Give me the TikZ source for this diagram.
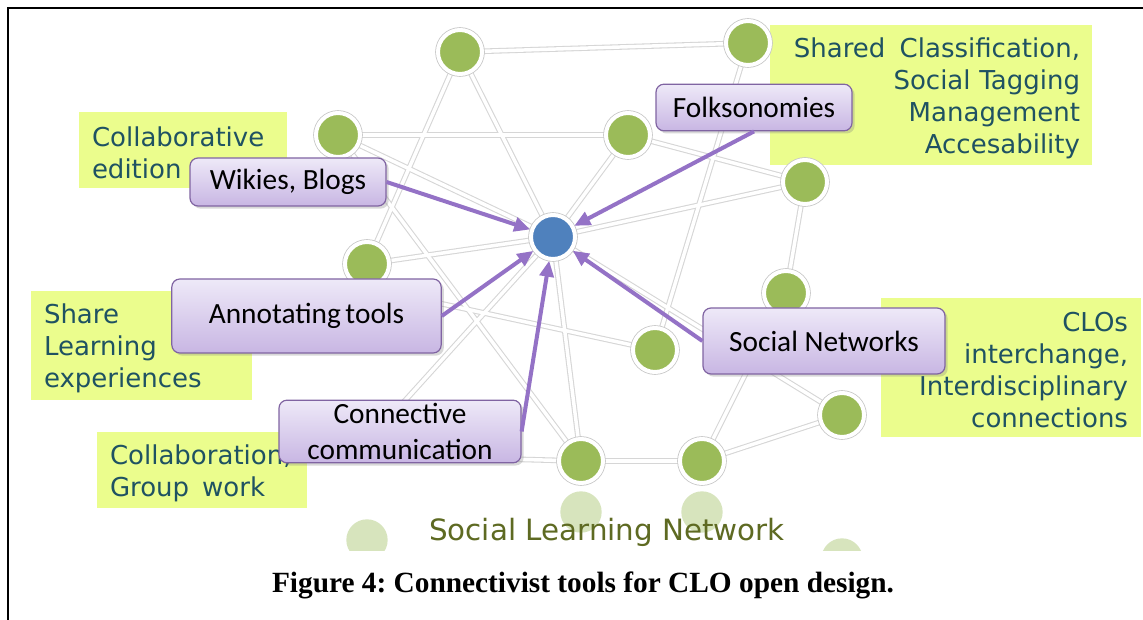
\documentclass[tikz,border=0pt]{standalone}
\usepackage{fontspec}
\setmainfont{Liberation Serif}
\newfontfamily\verd{DejaVu Sans}
\newfontfamily\calib{Carlito}
\usetikzlibrary{arrows.meta,shadows}
\pgfdeclarelayer{labels}
\pgfdeclarelayer{edges}
\pgfsetlayers{labels,edges,main}
\definecolor{grn}{HTML}{9BBB59}
\definecolor{blu}{HTML}{4F81BD}
\definecolor{ghostc}{HTML}{D7E4BD}
\definecolor{labc}{HTML}{EBFD8D}
\definecolor{labtxt}{HTML}{1F5262}
\definecolor{boxtop}{HTML}{EEE9F8}
\definecolor{boxbot}{HTML}{C8B6E3}
\definecolor{boxborder}{HTML}{8064A2}
\definecolor{arrc}{HTML}{9472C6}
\definecolor{edgegray}{HTML}{D6D6D6}
\definecolor{slnc}{HTML}{5E6A22}
\begin{document}
\frenchspacing
\begin{tikzpicture}[x=0.75pt,y=-0.75pt,
  gn/.style={circle,fill=grn,draw=white,line width=3pt,minimum size=33pt,inner sep=0pt,
    preaction={draw=black!22,line width=4.2pt}},
  bn/.style={gn,fill=blu},
  ghost/.style={circle,fill=ghostc,minimum size=31pt,inner sep=0pt},
  tool/.style={rectangle,rounded corners=6pt,draw=boxborder,line width=0.9pt,
    top color=boxtop,bottom color=boxbot,text=black,
    font=\calib\fontsize{22}{27}\selectfont,align=center,inner sep=0pt,
    drop shadow={opacity=0.3,shadow xshift=2pt,shadow yshift=-2pt}},
  labrect/.style={rectangle,fill=labc,inner sep=0pt},
  labtext/.style={text=labtxt,inner sep=0pt,font=\verd\fontsize{19.5}{24}\selectfont},
  edgeback/.style={draw=edgegray,line width=4.2pt},
  edgefront/.style={draw=white,line width=2.6pt},
  arr/.style={draw=arrc,line width=3pt,-{Triangle[length=12pt,width=10.5pt]}},
]
\useasboundingbox (0,0) rectangle (1143,620);

% green labels (on white background)
\begin{pgfonlayer}{labels}
\fill[white] (0,0) rectangle (1143,620);
\node[labrect,minimum width=156pt,minimum height=57pt] (l1) at (183,150) {};
\node[labtext,text width=136.5pt,align=left] (t1) at ([yshift=-2pt]l1.center)
  {Collaborative\\edition};
\node[labrect,minimum width=241.5pt,minimum height=105pt] (l2) at (931,95) {};
\node[labtext,text width=223.5pt,align=right] (t2) at ([yshift=-2.5pt]l2.center)
  {Shared\hspace{0.55em}Classification,\\Social Tagging\\Management\\Accesability};
\node[labrect,minimum width=165.75pt,minimum height=81.75pt] (l3) at (141.5,345.5) {};
\node[labtext,text width=146.25pt,align=left] (t3) at ([yshift=-2.2pt]l3.center)
  {Share\\Learning\\experiences};
\node[labrect,minimum width=157.5pt,minimum height=57pt] (l4) at (202,470) {};
\node[labtext,text width=138pt,align=left] (t4) at ([yshift=-2.2pt]l4.center)
  {Collaboration,\\Group\hspace{0.5em}work};
\node[labrect,minimum width=195pt,minimum height=104.25pt] (l5) at (1011,367.5) {};
\node[labtext,text width=175.5pt,align=right] (t5) at ([yshift=-1.8pt]l5.center)
  {CLOs\\interchange,\\Interdisciplinary\\connections};
\end{pgfonlayer}

% frame
\draw[line width=2pt] (8,620) -- (8,8) -- (1143,8);

% ghost circles (reflection), clipped
\begin{scope}
  \clip (0,0) rectangle (1143,550);
  \node[ghost] (g1) at (581,512) {};
  \node[ghost] (g2) at (702,512) {};
  \node[ghost] (g3) at (367,540) {};
  \node[ghost] (g4) at (842,559) {};
\end{scope}

% network nodes
\node[gn] (A) at (460,52) {};
\node[gn] (B) at (748,43) {};
\node[gn] (C) at (338,135) {};
\node[gn] (D) at (628,135) {};
\node[gn] (E) at (805,182) {};
\node[bn] (X) at (553,237) {};
\node[gn] (F) at (367,264) {};
\node[gn] (G) at (786,293) {};
\node[gn] (H) at (655,350) {};
\node[gn] (I) at (842,415) {};
\node[gn] (J) at (581,461) {};
\node[gn] (K) at (702,461) {};
\coordinate (c1) at (392,415);
\coordinate (c2) at (505,459);
\coordinate (c3) at (355,285);

\begin{pgfonlayer}{edges}
\foreach \p/\q in {A/B,A/F,A/X,C/D,C/X,C/J,F/X,c3/H,D/X,D/E,E/X,E/G,G/K,K/I,J/K,X/J,X/I,B/H,X/c1,c2/J}{
  \draw[edgeback] (\p) -- (\q);
}
\foreach \p/\q in {A/B,A/F,A/X,C/D,C/X,C/J,F/X,c3/H,D/X,D/E,E/X,E/G,G/K,K/I,J/K,X/J,X/I,B/H,X/c1,c2/J}{
  \draw[edgefront] (\p) -- (\q);
}
\end{pgfonlayer}

% tool boxes
\node[tool,minimum width=147pt,minimum height=36pt] (wiki) at (288,182) {Wikies, Blogs};
\node[tool,minimum width=147pt,minimum height=35pt] (folk) at (754,107.5) {Folksonomies};
\node[tool,minimum width=202pt,minimum height=55.5pt] (annot) at (306.5,316) {Annotating\hspace{3.5pt}tools};
\node[tool,minimum width=181.5pt,minimum height=47pt] (conn) at (400,431.5) {Connective\\communication};
\node[tool,minimum width=181.5pt,minimum height=49.5pt] (soc) at (824,341) {Social Networks};

% arrows
\draw[arr] (wiki.east) -- (X);
\draw[arr] (folk.south) -- (X);
\draw[arr] (annot.east) -- (X);
\draw[arr] (conn.east) -- (X);
\draw[arr] (soc.west) -- (X);

% titles
\node[text=slnc,font=\verd\fontsize{22}{26}\selectfont,anchor=base,inner sep=0pt] (sln) at (607,540)
  {Social Learning Network};
\node[font=\bfseries\fontsize{22}{26}\selectfont,anchor=base,inner sep=0pt] (cap) at (583,592)
  {Figure 4: Connectivist tools for CLO open design.};
\end{tikzpicture}
\end{document}
